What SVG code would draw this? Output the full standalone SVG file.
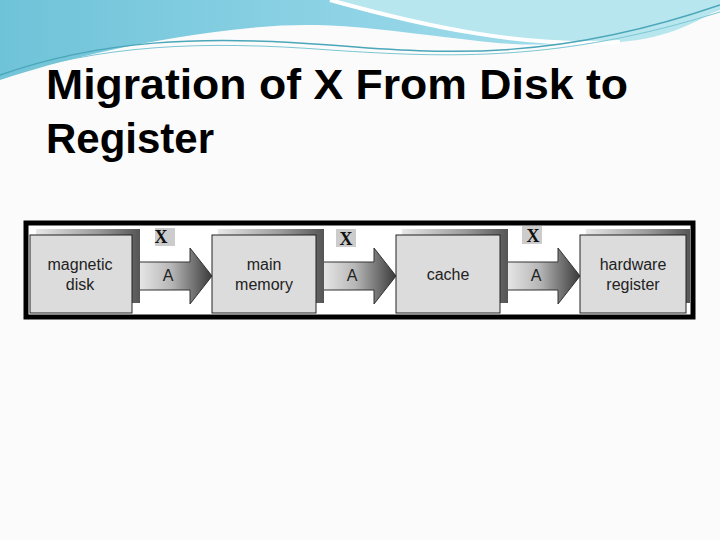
<svg xmlns="http://www.w3.org/2000/svg" width="720" height="540" viewBox="0 0 720 540">
<defs>
<linearGradient id="sky" x1="0" y1="0" x2="1" y2="0"><stop offset="0" stop-color="#6fc3d8"/><stop offset="0.5" stop-color="#8fd3e6"/><stop offset="1" stop-color="#b0e4ee"/></linearGradient>
<linearGradient id="sh" x1="0" y1="0" x2="1" y2="0"><stop offset="0" stop-color="#e8e8e8"/><stop offset="0.6" stop-color="#9a9a9a"/><stop offset="1" stop-color="#555"/></linearGradient>
<linearGradient id="ar" x1="0" y1="0" x2="1" y2="0"><stop offset="0" stop-color="#f2f2f2"/><stop offset="0.5" stop-color="#b5b5b5"/><stop offset="1" stop-color="#3a3a3a"/></linearGradient>
<g id="arrow"><path d="M0,262 H58 V248 L80,276 L58,304 V290 H0 Z" fill="url(#ar)" stroke="#333" stroke-width="1"/></g>
</defs>
<style>
.box{fill:#dcdcdc;stroke:#222;stroke-width:1}
.t{font-family:"Liberation Sans",Arial,sans-serif;font-size:16px;fill:#222;text-anchor:middle}
.x{font-family:"Liberation Serif",serif;font-size:18px;font-weight:bold;fill:#111;text-anchor:middle}
.h{font-family:"Liberation Sans",Arial,sans-serif;font-size:42px;font-weight:bold;fill:#000}
</style>
<rect width="720" height="540" fill="#fbfbfb"/>
<path d="M0,0 H720 V10 C640,40 560,52 470,40 C380,30 330,20 250,28 C150,38 60,60 0,80 Z" fill="url(#sky)"/>
<path d="M330,0 C420,25 520,48 620,42 C670,38 700,20 720,8 V0 Z" fill="#b7e6ee"/>
<path d="M330,0 C420,25 520,48 620,42" fill="none" stroke="#fff" stroke-width="4"/>
<path d="M0,75 C100,40 200,35 330,45 C450,55 560,60 720,5" fill="none" stroke="#4aa6b8" stroke-width="1.5"/>
<path d="M0,78 C100,45 200,40 330,50 C450,58 560,62 720,12" fill="none" stroke="#7cc6d4" stroke-width="1"/>
<text class="h" x="46" y="99" textLength="582" lengthAdjust="spacingAndGlyphs">Migration of X From Disk to</text>
<text class="h" x="46" y="153">Register</text>
<rect x="26" y="223" width="667" height="94" fill="#fff" stroke="#000" stroke-width="5"/>
<g id="connectors">
<use href="#arrow" transform="translate(132,0)"/>
<use href="#arrow" transform="translate(316,0)"/>
<use href="#arrow" transform="translate(500,0)"/>
<text class="t" x="168" y="281">A</text>
<text class="t" x="352" y="281">A</text>
<text class="t" x="536" y="281">A</text>
</g>
<g id="disk"><rect x="36" y="229" width="104" height="74" fill="url(#sh)"/><rect class="box" x="30" y="235" width="102" height="78"/><text class="t" x="80" y="270">magnetic</text><text class="t" x="80" y="290">disk</text></g>
<g id="memory"><rect x="218" y="229" width="106" height="74" fill="url(#sh)"/><rect class="box" x="212" y="235" width="104" height="78"/><text class="t" x="264" y="270">main</text><text class="t" x="264" y="290">memory</text></g>
<g id="cache"><rect x="402" y="229" width="106" height="74" fill="url(#sh)"/><rect class="box" x="396" y="235" width="104" height="78"/><text class="t" x="448" y="280">cache</text></g>
<g id="register"><rect x="586" y="229" width="104" height="74" fill="url(#sh)"/><rect class="box" x="580" y="235" width="106" height="78"/><text class="t" x="633" y="270">hardware</text><text class="t" x="633" y="290">register</text></g>
<g id="xs">
<rect x="155" y="228" width="20" height="18" fill="#ccc"/><text class="x" x="161" y="243">X</text>
<rect x="336" y="229" width="20" height="18" fill="#ccc"/><text class="x" x="346" y="245">X</text>
<rect x="522" y="226" width="20" height="18" fill="#ccc"/><text class="x" x="533" y="242">X</text>
</g>
</svg>
